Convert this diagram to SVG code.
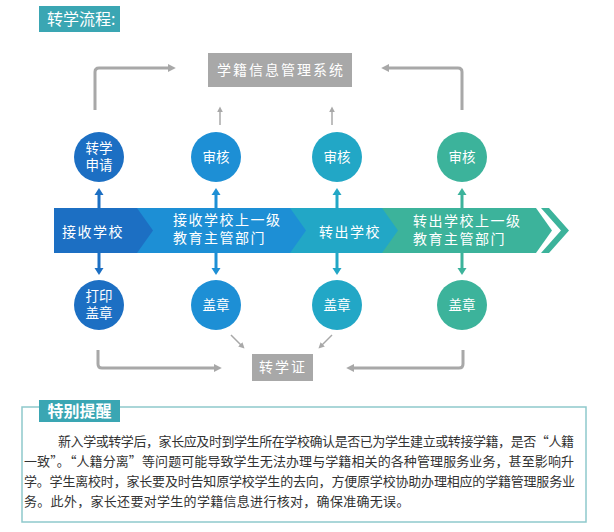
<svg xmlns="http://www.w3.org/2000/svg" width="614" height="532" viewBox="0 0 614 532">
<defs>
<style>
.cjk{font-family:"Noto Sans CJK SC","Noto Sans",sans-serif;}
.w{fill:#ffffff;}
.band{font-size:14px;letter-spacing:1.5px;}
.circ{font-size:13.5px;text-anchor:middle;}
.gl{fill:none;stroke:#a8a8a8;stroke-width:3;stroke-linejoin:round;}
.gt{fill:none;stroke:#a8a8a8;stroke-width:1.5;}
.note{font-size:13px;fill:#333333;}
</style>
<marker id="ag" viewBox="0 0 10 10" refX="4" refY="5" markerWidth="8" markerHeight="8" markerUnits="userSpaceOnUse" orient="auto"><path d="M0,0 L10,5 L0,10 z" fill="#a8a8a8"/></marker>
<marker id="as" viewBox="0 0 10 10" refX="4" refY="5" markerWidth="6" markerHeight="6" markerUnits="userSpaceOnUse" orient="auto"><path d="M0,0 L10,5 L0,10 z" fill="#a8a8a8"/></marker>
</defs>
<rect width="614" height="532" fill="#ffffff"/>

<g id="title">
<rect x="39" y="6" width="81" height="26" fill="#3aa6b3"/>
<text x="47" y="25" class="cjk w" font-size="16">转学流程:</text>
</g>

<g id="system">
<rect x="208" y="53" width="144" height="34" fill="#a8a8a8"/>
<text x="281" y="75" class="cjk w" font-size="14" letter-spacing="2" text-anchor="middle">学籍信息管理系统</text>
</g>

<g id="certificate">
<rect x="252" y="354" width="61" height="27" fill="#a8a8a8"/>
<text x="283" y="372" class="cjk w" font-size="14" letter-spacing="2" text-anchor="middle">转学证</text>
</g>

<g id="band">
<polygon points="375,208 536,208 552,230.5 536,253 375,253" fill="#3cb39b"/>
<polygon points="541,208 549,208 569,230.5 549,253 541,253 561,230.5" fill="#3cb39b"/>
<polygon points="280,208 382,208 398,230.5 382,253 280,253" fill="#22a7c6"/>
<polygon points="130,208 290,208 306,230.5 290,253 130,253" fill="#1d8fd5"/>
<polygon points="54,208 137,208 153,230.5 137,253 54,253" fill="#1c6fc3"/>
</g>
<g id="stage1"><text x="62" y="237" class="cjk w band">接收学校</text></g>
<g id="stage2"><text x="173" y="225" class="cjk w band">接收学校上一级</text><text x="173" y="243" class="cjk w band">教育主管部门</text></g>
<g id="stage3"><text x="319" y="237" class="cjk w band">转出学校</text></g>
<g id="stage4"><text x="413" y="225.5" class="cjk w band">转出学校上一级</text><text x="413" y="243.5" class="cjk w band">教育主管部门</text></g>

<g id="c1top"><circle cx="99" cy="157" r="25" fill="#1c6fc3"/><text x="99" y="153" class="cjk w circ">转学</text><text x="99" y="170" class="cjk w circ">申请</text></g>
<g id="c2top"><circle cx="216" cy="157" r="25" fill="#1d8fd5"/><text x="216" y="162" class="cjk w circ">审核</text></g>
<g id="c3top"><circle cx="337" cy="157" r="25" fill="#22a7c6"/><text x="337" y="162" class="cjk w circ">审核</text></g>
<g id="c4top"><circle cx="462" cy="157" r="25" fill="#3cb39b"/><text x="462" y="162" class="cjk w circ">审核</text></g>

<g id="c1bot"><circle cx="99" cy="305" r="25" fill="#1c6fc3"/><text x="99" y="301" class="cjk w circ">打印</text><text x="99" y="318" class="cjk w circ">盖章</text></g>
<g id="c2bot"><circle cx="216" cy="305" r="25" fill="#1d8fd5"/><text x="216" y="310" class="cjk w circ">盖章</text></g>
<g id="c3bot"><circle cx="337" cy="305" r="25" fill="#22a7c6"/><text x="337" y="310" class="cjk w circ">盖章</text></g>
<g id="c4bot"><circle cx="462" cy="305" r="25" fill="#3cb39b"/><text x="462" y="310" class="cjk w circ">盖章</text></g>

<g id="connectors">
<path class="gl" d="M95,110 V72 Q95,68 99,68 H171" marker-end="url(#ag)"/>
<path class="gl" d="M462,110 V72 Q462,68 458,68 H386" marker-end="url(#ag)"/>
<path class="gt" d="M220,125 V110" marker-end="url(#as)"/>
<path class="gt" d="M332,125 V110" marker-end="url(#as)"/>
<path class="gl" d="M98,350 V364 Q98,368 102,368 H217" marker-end="url(#ag)"/>
<path class="gl" d="M463,350 V364 Q463,368 459,368 H351" marker-end="url(#ag)"/>
<path class="gt" d="M231,335 L242,346" marker-end="url(#as)"/>
<path class="gt" d="M332,335 L321,346" marker-end="url(#as)"/>

<g stroke-width="3">
<line x1="99" y1="208" x2="99" y2="194" stroke="#1c6fc3"/><polygon points="99,188 94.5,195 103.5,195" fill="#1c6fc3"/>
<line x1="99" y1="253" x2="99" y2="268" stroke="#1c6fc3"/><polygon points="99,275 94.5,268 103.5,268" fill="#1c6fc3"/>
<line x1="216" y1="208" x2="216" y2="194" stroke="#1d8fd5"/><polygon points="216,188 211.5,195 220.5,195" fill="#1d8fd5"/>
<line x1="216" y1="253" x2="216" y2="268" stroke="#1d8fd5"/><polygon points="216,275 211.5,268 220.5,268" fill="#1d8fd5"/>
<line x1="337" y1="208" x2="337" y2="194" stroke="#22a7c6"/><polygon points="337,188 332.5,195 341.5,195" fill="#22a7c6"/>
<line x1="337" y1="253" x2="337" y2="268" stroke="#22a7c6"/><polygon points="337,275 332.5,268 341.5,268" fill="#22a7c6"/>
<line x1="462" y1="208" x2="462" y2="194" stroke="#3cb39b"/><polygon points="462,188 457.5,195 466.5,195" fill="#3cb39b"/>
<line x1="462" y1="253" x2="462" y2="268" stroke="#3cb39b"/><polygon points="462,275 457.5,268 466.5,268" fill="#3cb39b"/>
</g>
</g>

<g id="notice">
<rect x="22" y="407" width="564" height="115" fill="none" stroke="#8ec9cc" stroke-width="1.5"/>
<rect x="39" y="400" width="81" height="22" fill="#3aa6b3"/>
<text x="79.5" y="417" class="cjk w" font-size="16" font-weight="bold" text-anchor="middle">特别提醒</text>
<text x="58" y="446" class="cjk note" textLength="516" lengthAdjust="spacing">新入学或转学后，家长应及时到学生所在学校确认是否已为学生建立或转接学籍，是否“人籍</text>
<text x="24" y="466" class="cjk note" textLength="550" lengthAdjust="spacing">一致”。“人籍分离”等问题可能导致学生无法办理与学籍相关的各种管理服务业务，甚至影响升</text>
<text x="24" y="486" class="cjk note" textLength="551" lengthAdjust="spacing">学。学生离校时，家长要及时告知原学校学生的去向，方便原学校协助办理相应的学籍管理服务业</text>
<text x="24" y="506" class="cjk note" letter-spacing="0.3">务。此外，家长还要对学生的学籍信息进行核对，确保准确无误。</text>
</g>
</svg>
